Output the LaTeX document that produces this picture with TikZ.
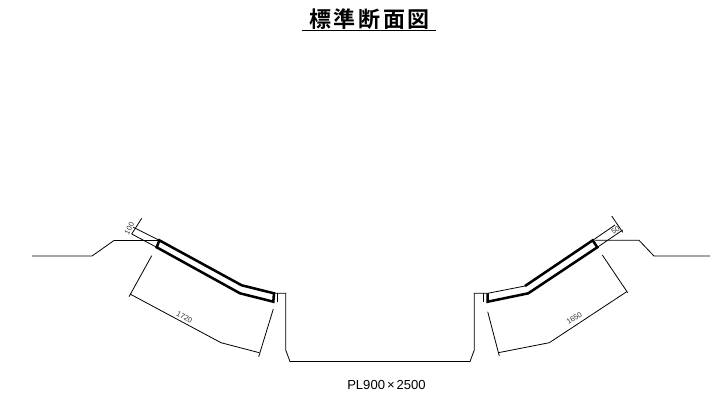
\documentclass[tikz,border=0pt]{standalone}
\usepackage{fontspec}
\setmainfont{Liberation Sans}
\newfontfamily\cjk{Noto Sans CJK JP}[BoldFont={Noto Sans CJK JP Bold}]
\tikzset{
  thinline/.style={draw=black,line width=0.6pt,line join=miter},
  thickline/.style={draw=black,line width=1.9pt,line join=miter},
  dimtext/.style={inner sep=0pt,text=black!80,font=\fontsize{5.6pt}{6pt}\selectfont},
  captext/.style={inner sep=0pt,font=\fontsize{9.8pt}{11pt}\selectfont},
  headtext/.style={inner sep=0pt,font=\cjk\bfseries\fontsize{16.5pt}{17pt}\selectfont}
}
\begin{document}
\begin{tikzpicture}[x=0.75pt,y=-0.75pt]
\useasboundingbox (0,0) rectangle (713,397);
\fill[white] (0,0) rectangle (713,397);
% title
\node[headtext] (title) at (369.5,19.5) {標\kern1.9pt準\kern1.9pt断\kern1.9pt面\kern1.9pt図};
\draw[black,line width=1pt] (302,30.5) -- (436,30.5);
% left ground and channel
\draw[thinline] (32,256) -- (92,256) -- (114,240.5) -- (158,240.5);
\draw[thinline] (274,293.3) -- (285.7,293.3) -- (285.7,350) -- (290,361.5) -- (470,361.5) -- (474.3,350) -- (474.3,293.3) -- (487.7,293.3);
\draw[thinline] (277.5,293.3) -- (277.5,302);
\draw[thinline] (483.5,293.3) -- (483.5,302);
% left lining
\draw[thickline] (159.3,240.3) -- (241.7,285.3) -- (274,293.3) -- (273.3,301.7) -- (240,293.3) -- (156.7,247.3) -- cycle;
\draw[thinline] (133.3,227.3) -- (159.3,240.3);
\draw[thinline] (131.7,234) -- (156.7,247.3);
\draw[thinline] (141.7,218.3) -- (131.7,234);
\node[dimtext,rotate=62] (la) at (129.3,228.5) {100};
% left dimension
\draw[thinline] (151.7,255.7) -- (129,296.7);
\draw[thinline] (130,294) -- (221,342.7) -- (259.3,352.7);
\draw[thinline] (273.3,309) -- (258.7,356.7);
\node[dimtext,rotate=-29] (lb) at (184.5,317) {1720};
% right ground
\draw[thinline] (710,256) -- (654,256) -- (639,240.3) -- (595,240.3);
% right lining
\draw[thickline] (525,286) -- (592.7,240.3) -- (597.3,247.3) -- (528.3,293.3) -- (487.7,301.7) -- (487.7,293.3);
\draw[thinline] (525,286) -- (487.7,293.3);
\draw[thinline] (592.7,240.3) -- (615,225);
\draw[thinline] (597.3,247.3) -- (622.7,230);
\draw[thinline] (611.7,216) -- (622.7,232.3);
\node[dimtext,rotate=33] (ra) at (615.5,230) {50};
% right dimension
\draw[thinline] (602.3,255) -- (627.7,292.7);
\draw[thinline] (626.7,291.7) -- (549.3,342.7) -- (498.3,352.7);
\draw[thinline] (487.7,311.7) -- (499.3,356);
\node[dimtext,rotate=33] (rb) at (574.3,318.3) {1650};
% caption
\node[captext] (plate) at (386.5,384.5) {PL900\kern1.5pt×\kern1.5pt2500};
\end{tikzpicture}
\end{document}
